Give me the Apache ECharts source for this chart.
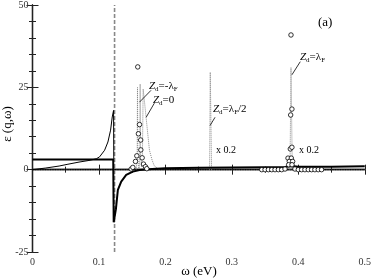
<!DOCTYPE html>
<html><head><meta charset="utf-8">
<script src="https://cdn.jsdelivr.net/npm/echarts@6/dist/echarts.min.js"></script>
<style>html,body{margin:0;padding:0;background:#fff}#c{width:374px;height:280px}</style>
</head><body><div id="c"></div>
<script>
// ---- data ----
const xTickLabels = ['0', '0.1', '0.2', '0.3', '0.4', '0.5'];
const yTickLabels = ['-25', '0', '25', '50'];

// thin solid curve (left of the pole)
const thinCurve = [[0,0],[0.02,0.5],[0.04,1.1],[0.052,1.6],[0.07,2.3],[0.085,2.8],[0.096,3.3],[0.101,3.9],[0.1085,5.9],[0.1135,8.4],[0.1175,12],[0.12,16],[0.122,18],[0.1223,3.2]];
// thick solid curve
const thickCurve = [[0,3.1],[0.05,3.1],[0.1,3.1],[0.1215,3.1],[0.1222,-16],[0.1245,-16],[0.1255,-12],[0.1285,-6.1],[0.1335,-3.6],[0.141,-1.6],[0.151,-0.6],[0.161,-0.1],[0.18,0.2],[0.2,0.4],[0.25,0.55],[0.3,0.65],[0.35,0.75],[0.38,0.8],[0.39,1.1],[0.4,0.85],[0.45,0.9],[0.5,1.0]];
// dotted zero line
const zeroLine = [[0,0],[0.5,0]];
// vertical dashed line at the pole
const poleX = 0.1235;
// dotted peaks ("x 0.2")
const peakA = [[0.156,0],[0.1575,3],[0.158,25],[0.1585,3],[0.16,0.3]];
const peakB = [[0.1605,0],[0.1615,4],[0.162,26],[0.1625,5],[0.164,0.8]];
const peakC = [[0.164,1],[0.1655,5],[0.1665,24.5],[0.168,21.7],[0.1729,12],[0.176,5.9],[0.18,2.9],[0.1834,1.1],[0.19,0.2]];
const peakD = [[0.2665,0],[0.2675,29.6],[0.2695,0]];
const peakE = [[0.3875,0],[0.389,31],[0.391,0]];
// open circles
const circles = [
  [0.1485,0.2],[0.151,0.7],[0.155,2.5],[0.157,4.2],[0.1584,31.2],[0.1594,10.9],[0.161,13.7],[0.1628,9],[0.163,6],[0.165,3.6],[0.167,1.7],[0.170,0.9],[0.172,0.3],
  [0.345,0],[0.35,0],[0.355,0],[0.36,0],[0.365,0],[0.37,0],[0.375,0],[0.38,0.2],
  [0.3845,3.5],[0.3895,3.5],[0.3865,2.5],[0.3915,2.5],[0.3855,1.5],[0.3905,1.5],[0.388,6.3],[0.3904,6.8],[0.3885,16.6],[0.3904,18.4],[0.389,40.9],
  [0.395,0.2],[0.4,0],[0.405,0],[0.41,0],[0.415,0],[0.42,0],[0.425,0],[0.43,0],[0.435,0]
];
// annotation arrows (tail -> head), data coordinates
const arrows = [
  [[0.1784,24.1],[0.161,20.5]],
  [[0.1834,20.2],[0.171,15.9]],
  [[0.2747,15.9],[0.2672,13.4]],
  [[0.403,32.8],[0.3904,28.8]]
];

const serif = 'Liberation Serif';
const chart = echarts.init(document.getElementById('c'), null, {renderer:'canvas'});
const axisLine = {show:true, lineStyle:{color:'#222', width:1.3}};
function xAx(pos, labels){
  return {type:'value', position:pos, min:0, max:0.5, interval:0.1,
    axisLine, splitLine:{show:false},
    axisTick:{show:true, inside:true, length:5, lineStyle:{color:'#222'}},
    minorTick:{show:true, splitNumber:2, length:3, lineStyle:{color:'#222'}},
    axisLabel:{show:labels, margin:5, color:'#333', fontFamily:serif, fontSize:10,
      formatter:v=>xTickLabels[Math.round(v*10)]}};
}
function yAx(pos, labels){
  return {type:'value', position:pos, min:-25, max:50, interval:25,
    axisLine, splitLine:{show:false},
    axisTick:{show:true, inside:true, length:6, lineStyle:{color:'#222'}},
    minorTick:{show:true, splitNumber:5, length:3.5, lineStyle:{color:'#222'}},
    axisLabel:{show:labels, margin:4, color:'#333', fontFamily:serif, fontSize:10,
      formatter:v=>yTickLabels[Math.round((v+25)/25)]}};
}
const dotted = {color:'#888', width:1, type:[1,1]};
function peak(d){return {type:'line', data:d, symbol:'none', silent:true, lineStyle:dotted, z:2};}
const rich = {
  i:{fontSize:11, fontFamily:serif, fontStyle:'italic', fill:'#000'},
  n:{fontSize:11, fontFamily:serif, fill:'#000'},
  s:{fontSize:7, fontFamily:serif, fill:'#000', padding:[7,0,0,0]}
};
function label(txt, x, y){
  return {type:'text', x, y, style:{text:txt, rich, verticalAlign:'middle', fill:'#000'}, z:10};
}
chart.setOption({
  animation:false,
  grid:{left:32.5, right:7, top:5, bottom:28},
  xAxis:[xAx('bottom', true), xAx('top', false)],
  yAxis:[yAx('left', true), yAx('right', false)],
  series:[
    {type:'line', data:zeroLine, symbol:'none', silent:true, lineStyle:{color:'#000', width:1, type:[1,1.5]}, z:1,
      markLine:{silent:true, symbol:['none','arrow'], symbolSize:[0,5], label:{show:false},
        lineStyle:{color:'#000', width:0.8, type:'solid'},
        data:arrows.map(a=>[{coord:a[0]},{coord:a[1]}])}},
    {type:'line', data:[[poleX,-25],[poleX,50]], symbol:'none', silent:true, lineStyle:{color:'#888', width:1.6, type:[4,2]}, z:2},
    peak(peakA), peak(peakB), peak(peakC), peak(peakD), peak(peakE),
    {type:'line', data:thinCurve, symbol:'none', lineStyle:{color:'#000', width:1}, z:3},
    {type:'line', data:thickCurve, symbol:'none', lineStyle:{color:'#000', width:2}, z:3},
    {type:'scatter', data:circles, symbol:'circle', symbolSize:4.5, silent:true,
      itemStyle:{color:'#fff', borderColor:'#000', borderWidth:0.8, opacity:1}, z:4}
  ],
  graphic:[
    label('{i|Z}{s|d}{n|=-λ}{s|F}', 149, 86),
    label('{i|Z}{s|d}{n|=0}', 153, 100),
    label('{i|Z}{s|d}{n|=λ}{s|F}{n|/2}', 213, 109),
    label('{i|Z}{s|d}{n|=λ}{s|F}', 300, 57),
    {type:'text', x:216, y:150, style:{text:'x 0.2', font:'10px "Liberation Serif"', fill:'#000', verticalAlign:'middle'}},
    {type:'text', x:299, y:150, style:{text:'x 0.2', font:'10px "Liberation Serif"', fill:'#000', verticalAlign:'middle'}},
    {type:'text', x:318, y:23, style:{text:'(a)', font:'13px "Liberation Serif"', fill:'#000', verticalAlign:'middle'}},
    {type:'text', x:199, y:272, style:{text:'ω (eV)', font:'13px "Liberation Serif"', fill:'#000', align:'center', verticalAlign:'middle'}},
    {type:'text', x:8, y:124, rotation:Math.PI/2, style:{text:'ε (q,ω)', font:'13px "Liberation Serif"', fill:'#000', align:'center', verticalAlign:'middle'}}
  ]
});
</script></body></html>
